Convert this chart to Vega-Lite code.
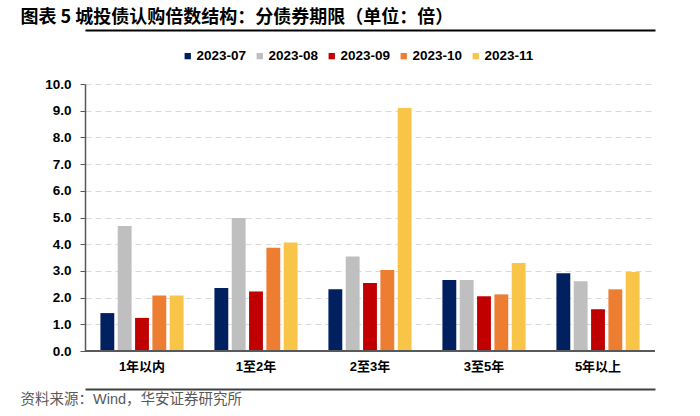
{
  "$schema": "https://vega.github.io/schema/vega-lite/v6.json",
  "autosize": "none",
  "width": 570,
  "height": 267,
  "padding": {"left": 85, "top": 84, "right": 45, "bottom": 65},
  "background": "white",
  "config": {"view": {"stroke": null}},
  "data": {"values": [
    {"term": "1年以内", "month": "2023-07", "value": 1.42},
    {"term": "1年以内", "month": "2023-08", "value": 4.68},
    {"term": "1年以内", "month": "2023-09", "value": 1.24},
    {"term": "1年以内", "month": "2023-10", "value": 2.08},
    {"term": "1年以内", "month": "2023-11", "value": 2.08},
    {"term": "1至2年", "month": "2023-07", "value": 2.36},
    {"term": "1至2年", "month": "2023-08", "value": 4.98},
    {"term": "1至2年", "month": "2023-09", "value": 2.23},
    {"term": "1至2年", "month": "2023-10", "value": 3.87},
    {"term": "1至2年", "month": "2023-11", "value": 4.06},
    {"term": "2至3年", "month": "2023-07", "value": 2.31},
    {"term": "2至3年", "month": "2023-08", "value": 3.54},
    {"term": "2至3年", "month": "2023-09", "value": 2.55},
    {"term": "2至3年", "month": "2023-10", "value": 3.03},
    {"term": "2至3年", "month": "2023-11", "value": 9.1},
    {"term": "3至5年", "month": "2023-07", "value": 2.66},
    {"term": "3至5年", "month": "2023-08", "value": 2.66},
    {"term": "3至5年", "month": "2023-09", "value": 2.05},
    {"term": "3至5年", "month": "2023-10", "value": 2.12},
    {"term": "3至5年", "month": "2023-11", "value": 3.3},
    {"term": "5年以上", "month": "2023-07", "value": 2.91},
    {"term": "5年以上", "month": "2023-08", "value": 2.61},
    {"term": "5年以上", "month": "2023-09", "value": 1.56},
    {"term": "5年以上", "month": "2023-10", "value": 2.31},
    {"term": "5年以上", "month": "2023-11", "value": 2.96}
  ]},
  "resolve": {"axis": {"x": "independent"}},
  "layer": [
    {
      "mark": {"type": "bar"},
      "encoding": {
        "x": {
          "field": "term", "type": "nominal", "sort": null,
          "scale": {"paddingInner": 0.24, "paddingOuter": 0.12},
          "axis": {
            "orient": "bottom", "offset": 38, "ticks": false,
            "domainColor": "#404040", "domainWidth": 2,
            "labelAngle": 0, "labelBaseline": "middle", "labelPadding": -23,
            "labelFont": "Liberation Sans, Noto Sans CJK SC", "labelFontWeight": "bold",
            "labelFontSize": 13, "labelColor": "#000000",
            "title": "资料来源：Wind，华安证券研究所",
            "titleFont": "Liberation Sans, Noto Sans CJK SC", "titleFontWeight": "normal",
            "titleFontSize": 14.5, "titleColor": "#595959",
            "titleAnchor": "start", "titleAlign": "left", "titleBaseline": "middle",
            "titleX": -65, "titleY": 10
          }
        },
        "xOffset": {
          "field": "month", "type": "nominal",
          "scale": {"paddingInner": 0.2, "paddingOuter": 0.1}
        },
        "y": {
          "field": "value", "type": "quantitative",
          "scale": {"domain": [0, 10], "nice": false},
          "axis": {
            "values": [0, 1, 2, 3, 4, 5, 6, 7, 8, 9, 10],
            "format": ".1f", "title": null, "labelOverlap": false,
            "labelFont": "Liberation Sans", "labelFontWeight": "bold",
            "labelFontSize": 13.5, "labelColor": "#000000", "labelPadding": 9,
            "tickColor": "#595959", "tickSize": 5,
            "domainColor": "#595959", "domainWidth": 1.5,
            "grid": true, "gridColor": "#d9d9d9", "gridDash": [6, 4], "gridWidth": 1
          }
        },
        "color": {
          "field": "month", "type": "nominal",
          "scale": {
            "domain": ["2023-07", "2023-08", "2023-09", "2023-10", "2023-11"],
            "range": ["#002060", "#BFBFBF", "#C00000", "#ED7D31", "#F8C548"]
          },
          "legend": {
            "title": null, "orient": "none", "direction": "horizontal",
            "legendX": 96, "legendY": -35,
            "symbolType": "square", "symbolSize": 40, "symbolStrokeWidth": 0,
            "labelFont": "Liberation Sans", "labelFontWeight": "bold",
            "labelFontSize": 13.5, "labelColor": "#000000", "labelOffset": 2,
            "columnPadding": 6
          }
        }
      }
    },
    {
      "mark": {"type": "rule", "color": "#595959", "strokeWidth": 2},
      "encoding": {"y": {"datum": 0, "type": "quantitative",
        "axis": {
            "values": [0, 1, 2, 3, 4, 5, 6, 7, 8, 9, 10],
            "format": ".1f", "title": null, "labelOverlap": false,
            "labelFont": "Liberation Sans", "labelFontWeight": "bold",
            "labelFontSize": 13.5, "labelColor": "#000000", "labelPadding": 9,
            "tickColor": "#595959", "tickSize": 5,
            "domainColor": "#595959", "domainWidth": 1.5,
            "grid": true, "gridColor": "#d9d9d9", "gridDash": [6, 4], "gridWidth": 1
          }}}
    },
    {
      "mark": {"type": "point", "opacity": 0},
      "encoding": {
        "x": {
          "field": "term", "type": "nominal", "sort": null,
          "axis": {
            "orient": "top", "offset": 54, "ticks": false, "labels": false,
            "domainColor": "#000000", "domainWidth": 2,
            "title": "图表 5 城投债认购倍数结构：分债券期限（单位：倍）",
            "titleFont": "Noto Sans CJK SC", "titleFontWeight": "bold",
            "titleFontSize": 18, "titleColor": "#000000",
            "titleAnchor": "start", "titleAlign": "left", "titleBaseline": "middle",
            "titleX": -65, "titleY": -13
          }
        }
      }
    }
  ]
}
